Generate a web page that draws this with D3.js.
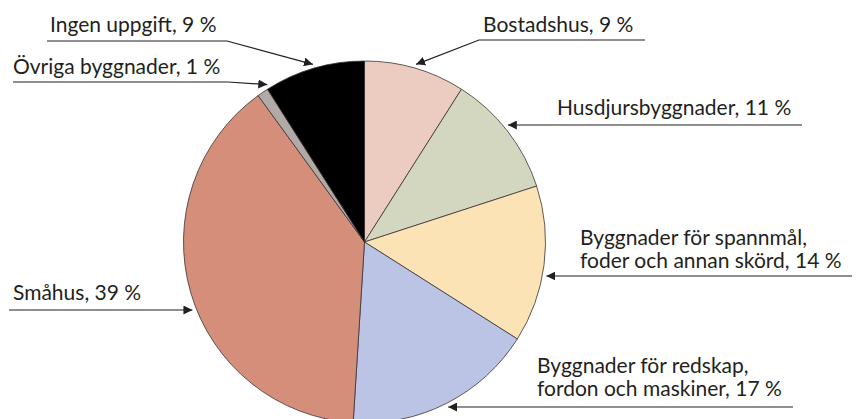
<!DOCTYPE html>
<html>
<head>
<meta charset="utf-8">
<script src="https://cdn.jsdelivr.net/npm/d3@7"></script>
<style>
  body { margin: 0; background: #fff; }
  text { font-family: Lato, "Noto Sans", sans-serif; fill: #231f20; }
</style>
</head>
<body>
<div id="chart"></div>
<script>
// andelar i procent, medurs från klockan 12
const categories = ["Bostadshus", "Husdjursbyggnader", "Byggnader för spannmål, foder och annan skörd",
    "Byggnader för redskap, fordon och maskiner", "Småhus", "Övriga byggnader", "Ingen uppgift"];
const values = [9, 11, 14, 17, 39, 1, 9];
const colors = ["#ecccc1", "#d3d7c0", "#fbe3b6", "#bcc4e6", "#d48e7a", "#b1aaa6", "#000000"];
const labelLines = [
    ["Bostadshus, 9 %"],
    ["Husdjursbyggnader, 11 %"],
    ["Byggnader för spannmål,", "foder och annan skörd, 14 %"],
    ["Byggnader för redskap,", "fordon och maskiner, 17 %"],
    ["Småhus, 39 %"],
    ["Övriga byggnader, 1 %"],
    ["Ingen uppgift, 9 %"]
];

// placering av etiketter (layout): textens x, första baslinje, understrykning x0-x1 på y, pil vinklad eller vågrät
const labelLayout = [
    { tx: 483, ty: 32, x0: 479, x1: 645, ly: 40, elbow: "x0" },
    { tx: 557, ty: 115, x0: 0, x1: 802, ly: 125, horizontal: "right" },
    { tx: 580, ty: 245, x0: 0, x1: 852, ly: 276, horizontal: "right" },
    { tx: 537, ty: 373, x0: 0, x1: 793, ly: 407, horizontal: "right" },
    { tx: 13, ty: 300, x0: 9, x1: 0, ly: 310, horizontal: "left" },
    { tx: 13, ty: 74, x0: 13, x1: 228, ly: 82, elbow: "x1", angleShift: 2.5 },
    { tx: 50, ty: 32, x0: 47, x1: 227, ly: 41, elbow: "x1" }
];

const width = 856, height = 419;
const cx = 364.5, cy = 242, radius = 181;
const fontSize = 21;

const svg = d3.select("#chart").append("svg").attr("width", width).attr("height", height);

svg.append("defs").append("marker")
    .attr("id", "arrow")
    .attr("viewBox", "0 0 10 10")
    .attr("refX", 10).attr("refY", 5)
    .attr("markerWidth", 9).attr("markerHeight", 9)
    .attr("markerUnits", "userSpaceOnUse")
    .attr("orient", "auto")
    .append("path").attr("d", "M0,0L10,5L0,10z").attr("fill", "#231f20");

const pieData = d3.pie().sort(null).value(d => d)(values);
const arc = d3.arc().innerRadius(0).outerRadius(radius);

const g = svg.append("g").attr("transform", "translate(" + cx + "," + cy + ")");
g.selectAll("path").data(pieData).join("path")
    .attr("d", arc)
    .attr("fill", (d, i) => colors[i])
    .attr("stroke", "#3a3435")
    .attr("stroke-width", 0.8);

const tipR = radius + 4;
const labels = svg.append("g");
pieData.forEach((d, i) => {
    const lay = labelLayout[i];
    const lines = labelLines[i];
    const t = labels.append("text").attr("font-size", fontSize);
    lines.forEach((s, k) => {
        t.append("tspan").attr("x", lay.tx).attr("y", lay.ty + k * 23).text(s);
    });
    let pts;
    if (lay.horizontal) {
        const dy = lay.ly - cy;
        const dx = Math.sqrt(tipR * tipR - dy * dy);
        const tipX = lay.horizontal === "right" ? cx + dx : cx - dx;
        const startX = lay.horizontal === "right" ? lay.x1 : lay.x0;
        pts = [[startX, lay.ly], [tipX, lay.ly]];
    } else {
        const a = (d.startAngle + d.endAngle) / 2 + (lay.angleShift || 0) * Math.PI / 180;
        const tip = [cx + tipR * Math.sin(a), cy - tipR * Math.cos(a)];
        const far = lay.elbow === "x0" ? lay.x1 : lay.x0;
        const near = lay.elbow === "x0" ? lay.x0 : lay.x1;
        pts = [[far, lay.ly], [near, lay.ly], tip];
    }
    labels.append("path")
        .attr("d", d3.line()(pts))
        .attr("fill", "none")
        .attr("stroke", "#231f20")
        .attr("stroke-width", 1.2)
        .attr("marker-end", "url(#arrow)");
});
</script>
</body>
</html>
